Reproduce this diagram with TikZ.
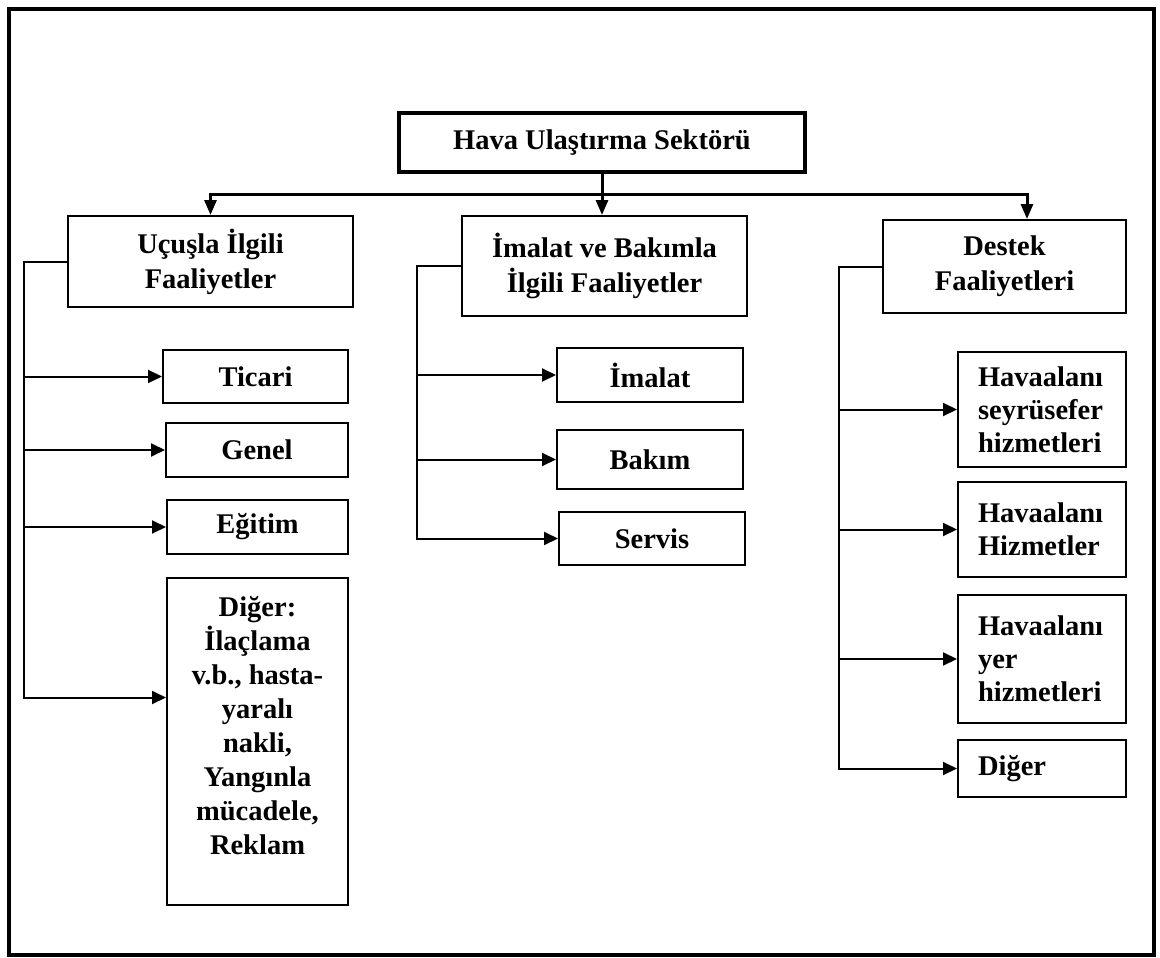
\documentclass[tikz,border=0pt]{standalone}
\usepackage{fontspec}
\setmainfont{Liberation Serif}
\usetikzlibrary{arrows.meta}
\begin{document}
\begin{tikzpicture}[x=1pt,y=-1pt,
  every node/.style={font=\fontsize{28.5}{35}\selectfont\bfseries},
  box/.style={draw, line width=2pt, align=center, inner sep=0pt},
  rbox/.style={draw, line width=2pt, align=left, text width=128pt,
    inner xsep=20pt, inner ysep=0pt,
    font=\fontsize{28.5}{33}\selectfont\bfseries},
  plain/.style={inner sep=0pt, align=center,
    font=\fontsize{28.5}{34}\selectfont\bfseries},
  link/.style={line width=2pt, -{Triangle[length=14pt,width=13pt]}},
  trunk/.style={line width=3pt, -{Triangle[length=15pt,width=12pt]}},
]
\useasboundingbox (0,0) rectangle (1160,958);

% outer frame
\draw[line width=4pt] (9,9.5) rectangle (1154,955);

% root
\node[box, line width=3.3pt, minimum width=406pt, minimum height=59pt]
  (main) at (602,142.5) {Hava Ulaştırma Sektörü};

% second level
\node[box, minimum width=285pt, minimum height=91pt]
  (ucus) at (210.5,261.5) {Uçuşla İlgili\\Faaliyetler};
\node[box, minimum width=285pt, minimum height=100pt]
  (imb) at (604.5,266) {İmalat ve Bakımla\\İlgili Faaliyetler};
\node[box, minimum width=243pt, minimum height=93pt]
  (destek) at (1004.5,266.5) {Destek\\Faaliyetleri};

% flight activities
\node[box, minimum width=185pt, minimum height=53pt] (ticari) at (255.5,376.5) {Ticari};
\node[box, minimum width=182pt, minimum height=54pt] (genel) at (257,450) {Genel};
\node[box, minimum width=181pt, minimum height=54pt] (egitim) at (257.5,527) {Eğitim};
\node[box, minimum width=181pt, minimum height=327pt] (dg) at (257.5,741.5) {};
\node[plain, anchor=north] (dgtext) at ([yshift=-19pt]dg.north)
  {Diğer:\\İlaçlama\\v.b., hasta-\\yaralı\\nakli,\\Yangınla\\mücadele,\\Reklam};

% manufacturing and maintenance
\node[box, minimum width=186pt, minimum height=54pt] (imalat) at (650,375) {İmalat};
\node[box, minimum width=186pt, minimum height=59pt] (bakim) at (650,459.5) {Bakım};
\node[box, minimum width=186pt, minimum height=53pt] (servis) at (652,538.5) {Servis};

% support activities
\node[rbox, minimum height=115pt] (seyr) at (1042,409.5) {Havaalanı\\seyrüsefer\\hizmetleri};
\node[rbox, minimum height=95pt] (hizm) at (1042,529.5) {Havaalanı\\Hizmetler};
\node[rbox, minimum height=128pt] (yer) at (1042,659) {Havaalanı\\yer\\hizmetleri};
\node[rbox, minimum height=57pt] (diger) at (1042,768.5) {Diğer};

% trunk lines from the root
\coordinate (hub) at (602,194);
\coordinate (dsin) at ([xshift=22.5pt]destek.north);
\draw[trunk] (main.south) -- (main.south |- imb.north);
\draw[trunk] (hub) -| (ucus.north);
\draw[trunk] (hub) -| (dsin);

% left bus
\coordinate (busL) at (24,0);
\coordinate (dgin) at ([yshift=44pt]dg.west);
\draw[link] (ucus.west) -- (busL |- ucus.west) -- (busL |- dgin) -- (dgin);
\draw[link] (busL |- ticari) -- (ticari);
\draw[link] (busL |- genel) -- (genel);
\draw[link] (busL |- egitim) -- (egitim);

% middle bus
\coordinate (busM) at (417,0);
\draw[link] (imb.west) -- (busM |- imb.west) -- (busM |- servis) -- (servis);
\draw[link] (busM |- imalat) -- (imalat);
\draw[link] (busM |- bakim) -- (bakim);

% right bus
\coordinate (busR) at (839,0);
\draw[link] (destek.west) -- (busR |- destek.west) -- (busR |- diger) -- (diger);
\draw[link] (busR |- seyr) -- (seyr);
\draw[link] (busR |- hizm) -- (hizm);
\draw[link] (busR |- yer) -- (yer);
\end{tikzpicture}
\end{document}
